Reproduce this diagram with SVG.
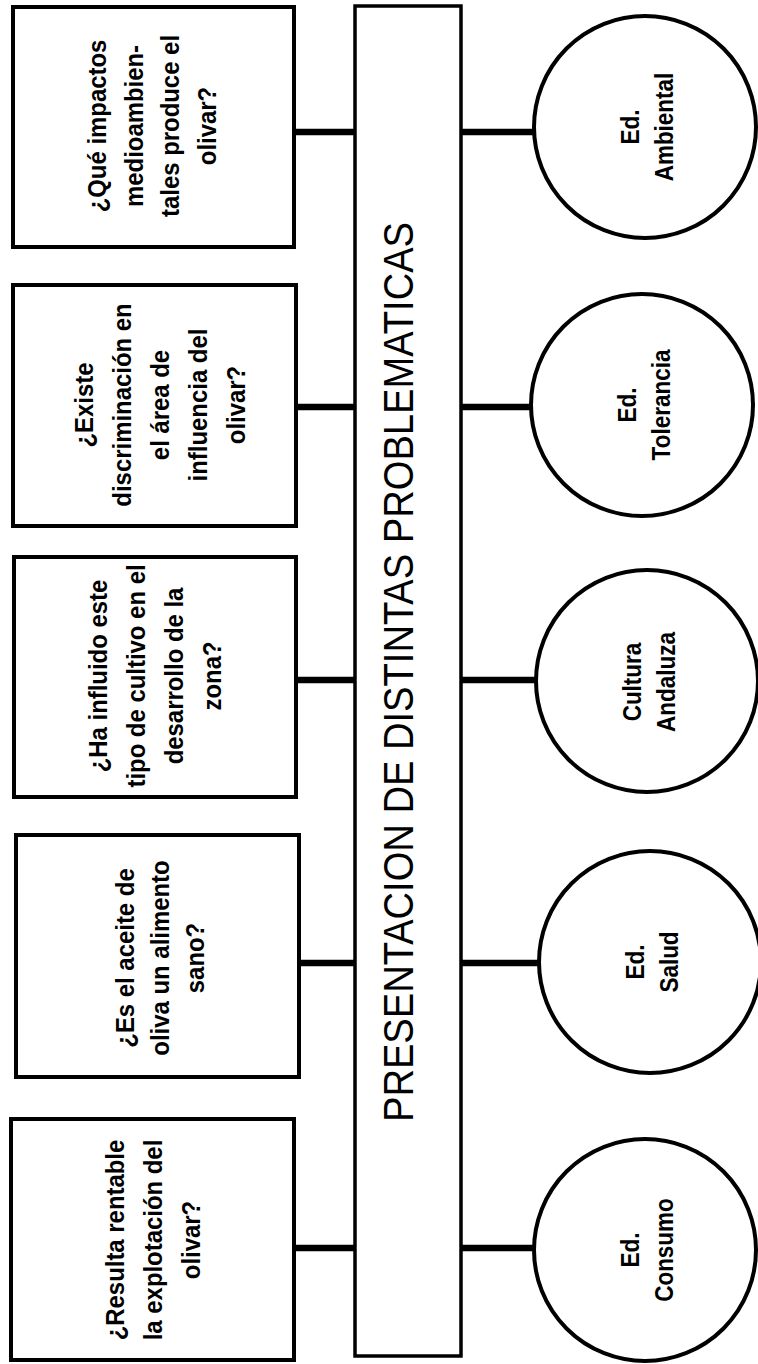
<svg xmlns="http://www.w3.org/2000/svg" width="758" height="1364" viewBox="0 0 758 1364">
  <style>
    .box { fill: #fff; stroke: #000; stroke-width: 4; }
    .bar { fill: #fff; stroke: #000; stroke-width: 3.5; }
    .circ { fill: #fff; stroke: #000; stroke-width: 4; }
    .link { stroke: #000; stroke-width: 6.5; fill: none; }
    .q { font-family: "Liberation Sans", Arial, sans-serif; font-weight: bold; font-size: 26px; text-anchor: middle; fill: #000; }
    .c { font-family: "Liberation Sans", Arial, sans-serif; font-weight: bold; font-size: 25px; text-anchor: middle; fill: #000; }
    .title { font-family: "Liberation Sans", Arial, sans-serif; font-size: 42px; text-anchor: middle; fill: #000; }
  </style>
  <rect width="758" height="1364" fill="#fff"/>

  <!-- connectors: question boxes to the bar, bar to the education circles -->
  <g id="connectors">
    <line class="link" x1="295" y1="132" x2="356" y2="132"/>
    <line class="link" x1="297" y1="407" x2="356" y2="407"/>
    <line class="link" x1="297" y1="680" x2="356" y2="680"/>
    <line class="link" x1="300" y1="963" x2="356" y2="963"/>
    <line class="link" x1="295" y1="1248" x2="356" y2="1248"/>
    <line class="link" x1="461" y1="132" x2="534" y2="132"/>
    <line class="link" x1="461" y1="407" x2="531" y2="407"/>
    <line class="link" x1="461" y1="680" x2="536" y2="680"/>
    <line class="link" x1="461" y1="963" x2="539" y2="963"/>
    <line class="link" x1="461" y1="1248" x2="534" y2="1248"/>
  </g>

  <!-- central bar -->
  <g id="bar">
    <rect class="bar" x="355" y="6" width="106" height="1350"/>
    <g transform="translate(413,672) rotate(-90)">
      <text class="title" x="0" y="0" textLength="900" lengthAdjust="spacingAndGlyphs">PRESENTACION DE DISTINTAS PROBLEMATICAS</text>
    </g>
  </g>

  <!-- question boxes (narrow bold lettering, read bottom to top) -->
  <g id="q-impactos">
    <rect class="box" x="13" y="7" width="281" height="240"/>
    <g transform="translate(152.5,126) rotate(-90) scale(0.92,1)">
      <text class="q" x="0" y="-47">¿Qué impactos</text>
      <text class="q" x="0" y="-10">medioambien-</text>
      <text class="q" x="0" y="27">tales produce el</text>
      <text class="q" x="0" y="64">olivar?</text>
    </g>
  </g>

  <g id="q-discriminacion">
    <rect class="box" x="13" y="285" width="283" height="241"/>
    <g transform="translate(160,405) rotate(-90) scale(0.92,1)">
      <text class="q" x="0" y="-67">¿Existe</text>
      <text class="q" x="0" y="-29">discriminación en</text>
      <text class="q" x="0" y="9">el área de</text>
      <text class="q" x="0" y="47">influencia del</text>
      <text class="q" x="0" y="85">olivar?</text>
    </g>
  </g>

  <g id="q-desarrollo">
    <rect class="box" x="14" y="557" width="282" height="240"/>
    <g transform="translate(156,676) rotate(-90) scale(0.92,1)">
      <text class="q" x="0" y="-49">¿Ha influido este</text>
      <text class="q" x="0" y="-11">tipo de cultivo en el</text>
      <text class="q" x="0" y="27">desarrollo de la</text>
      <text class="q" x="0" y="65">zona?</text>
    </g>
  </g>

  <g id="q-aceite">
    <rect class="box" x="16" y="835" width="283" height="242"/>
    <g transform="translate(160,958) rotate(-90) scale(0.92,1)">
      <text class="q" x="0" y="-26">¿Es el aceite de</text>
      <text class="q" x="0" y="9">oliva un alimento</text>
      <text class="q" x="0" y="44">sano?</text>
    </g>
  </g>

  <g id="q-rentable">
    <rect class="box" x="11" y="1119" width="283" height="241"/>
    <g transform="translate(153,1240) rotate(-90) scale(0.92,1)">
      <text class="q" x="0" y="-29">¿Resulta rentable</text>
      <text class="q" x="0" y="9">la explotación del</text>
      <text class="q" x="0" y="47">olivar?</text>
    </g>
  </g>

  <!-- education circles -->
  <g id="ed-ambiental">
    <circle class="circ" cx="645" cy="127" r="111"/>
    <g transform="translate(647,127) rotate(-90) scale(0.9,1)">
      <text class="c" x="0" y="-8">Ed.</text>
      <text class="c" x="0" y="26">Ambiental</text>
    </g>
  </g>

  <g id="ed-tolerancia">
    <circle class="circ" cx="642" cy="405" r="111"/>
    <g transform="translate(644,405) rotate(-90) scale(0.9,1)">
      <text class="c" x="0" y="-8">Ed.</text>
      <text class="c" x="0" y="26">Tolerancia</text>
    </g>
  </g>

  <g id="cultura-andaluza">
    <circle class="circ" cx="647" cy="681" r="111"/>
    <g transform="translate(649,682) rotate(-90) scale(0.9,1)">
      <text class="c" x="0" y="-8">Cultura</text>
      <text class="c" x="0" y="26">Andaluza</text>
    </g>
  </g>

  <g id="ed-salud">
    <circle class="circ" cx="650" cy="962" r="111"/>
    <g transform="translate(652,962) rotate(-90) scale(0.9,1)">
      <text class="c" x="0" y="-8">Ed.</text>
      <text class="c" x="0" y="26">Salud</text>
    </g>
  </g>

  <g id="ed-consumo">
    <circle class="circ" cx="645" cy="1250" r="111"/>
    <g transform="translate(647,1250) rotate(-90) scale(0.9,1)">
      <text class="c" x="0" y="-8">Ed.</text>
      <text class="c" x="0" y="26">Consumo</text>
    </g>
  </g>
</svg>
